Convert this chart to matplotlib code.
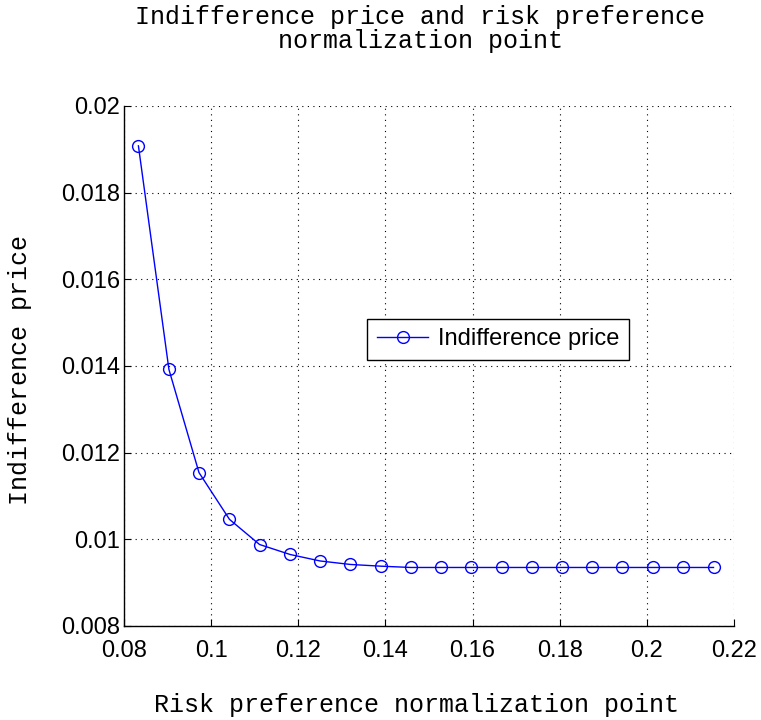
import matplotlib
matplotlib.use("Agg")
import matplotlib.pyplot as plt

# normalization points and resulting indifference prices
norm_points = [0.0833, 0.0903, 0.0972, 0.1042, 0.1111, 0.1181, 0.1250, 0.1319,
               0.1389, 0.1458, 0.1528, 0.1597, 0.1667, 0.1736, 0.1806, 0.1875,
               0.1944, 0.2014, 0.2083, 0.2153]
prices = [0.01908, 0.01392, 0.01154, 0.01046, 0.00988, 0.00965, 0.00950, 0.00942,
          0.00938, 0.00935, 0.00935, 0.00935, 0.00935, 0.00935, 0.00935, 0.00935,
          0.00935, 0.00935, 0.00935, 0.00935]

x_ticks = [0.08, 0.1, 0.12, 0.14, 0.16, 0.18, 0.2, 0.22]
x_labels = ["0.08", "0.1", "0.12", "0.14", "0.16", "0.18", "0.2", "0.22"]
y_ticks = [0.008, 0.01, 0.012, 0.014, 0.016, 0.018, 0.02]
y_labels = ["0.008", "0.01", "0.012", "0.014", "0.016", "0.018", "0.02"]

plt.rcParams["font.family"] = ["Liberation Sans", "DejaVu Sans"]
mono = ["Liberation Mono", "DejaVu Sans Mono"]

fig = plt.figure(figsize=(7.61, 7.2), dpi=100)
ax = fig.add_axes([0.163, 0.1306, 0.8015, 0.7222])

ax.plot(norm_points, prices, color="blue", lw=1.0, marker="o", markersize=8.5,
        markerfacecolor="none", markeredgecolor="blue", markeredgewidth=1.0,
        label="Indifference price")

ax.set_xlim(0.08, 0.22)
ax.set_ylim(0.008, 0.02)
ax.set_xticks(x_ticks)
ax.set_xticklabels(x_labels)
ax.set_yticks(y_ticks)
ax.set_yticklabels(y_labels)
ax.tick_params(direction="in", length=5, width=0.8, labelsize=17)
ax.tick_params(axis="y", pad=3)
ax.tick_params(axis="x", pad=10)

ax.spines["top"].set_visible(False)
ax.spines["right"].set_visible(False)
ax.spines["left"].set_linewidth(1.0)
ax.spines["bottom"].set_linewidth(1.0)
ax.grid(True, color="black", linestyle=(0, (1, 4)), linewidth=0.8)
ax.set_axisbelow(True)

leg = ax.legend(loc="center", bbox_to_anchor=(0.613, 0.551), fontsize=17,
                fancybox=False, framealpha=1, edgecolor="black",
                handlelength=2.2, handletextpad=0.4, borderpad=0.4)
leg.get_frame().set_linewidth(1.0)

fig.text(420 / 761, 1 - 29 / 720, "Indifference price and risk preference\nnormalization point",
         family=mono, fontsize=18, ha="center", va="center", linespacing=0.95)
fig.text(417 / 761, 1 - 705 / 720, "Risk preference normalization point",
         family=mono, fontsize=18, ha="center", va="center")
fig.text(20 / 761, 1 - 370 / 720, "Indifference price",
         family=mono, fontsize=18, ha="center", va="center", rotation=90)

fig.savefig("out.png", dpi=100)
